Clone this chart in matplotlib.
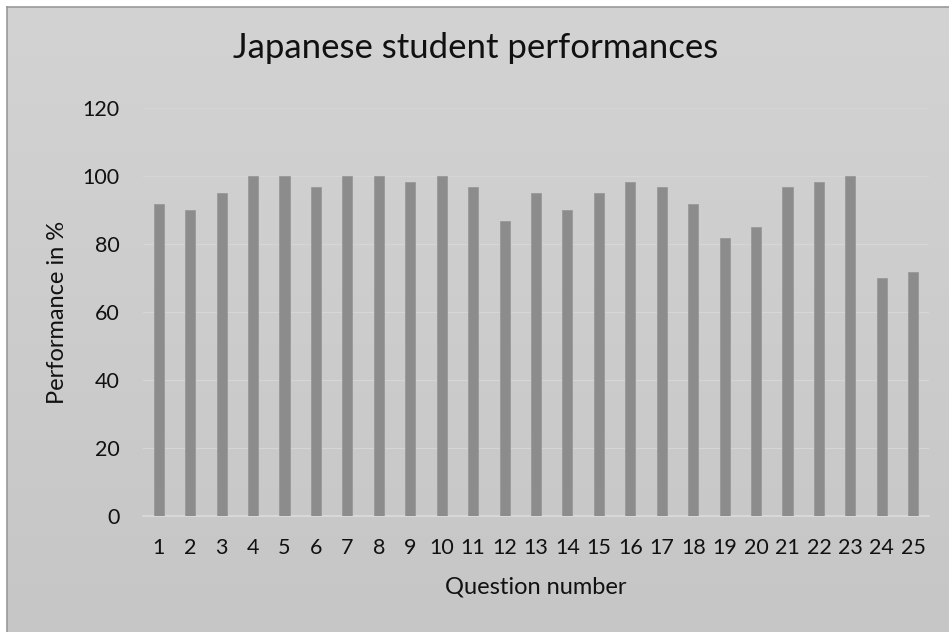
import numpy as np
import matplotlib.pyplot as plt

plt.rcParams['font.family'] = ['Lato', 'DejaVu Sans']

questions = [str(i) for i in range(1, 26)]
performance = [91.7, 90.0, 95.0, 100.0, 100.0, 96.7, 100.0, 100.0, 98.3, 100.0,
               96.7, 86.7, 95.0, 90.0, 95.0, 98.3, 96.7, 91.7, 81.7, 85.0,
               96.7, 98.3, 100.0, 70.0, 71.7]
y_ticks = [0, 20, 40, 60, 80, 100, 120]

fig = plt.figure(figsize=(9.49, 6.32), dpi=100)

# chart area background: grey gradient with thin border on top/left
bg = fig.add_axes([7 / 949, 0, 1 - 7 / 949, 1 - 7 / 632])
grad = np.linspace(0, 1, 256).reshape(-1, 1)
bg.imshow(grad, aspect='auto', cmap=plt.matplotlib.colors.LinearSegmentedColormap.from_list(
    'bg', ['#d3d3d3', '#c6c6c6']), extent=[0, 1, 0, 1])
bg.set_xticks([])
bg.set_yticks([])
for side in ['right', 'bottom']:
    bg.spines[side].set_visible(False)
for side in ['top', 'left']:
    bg.spines[side].set_color('#999999')
    bg.spines[side].set_linewidth(1.2)

ax = fig.add_axes([143 / 949, 1 - 516 / 632, (929 - 143) / 949, (516 - 108) / 632])
ax.patch.set_alpha(0)
x = np.arange(len(questions))
ax.bar(x, performance, width=0.32, color='#8c8c8c', edgecolor='#999999', linewidth=0.6, zorder=3)
ax.set_xlim(-0.5, len(questions) - 0.5)
ax.set_ylim(0, 120)
ax.set_yticks(y_ticks)
ax.set_xticks(x)
ax.set_xticklabels(questions)
ax.tick_params(length=0, labelsize=15.5, colors='#111111')
ax.tick_params(axis='y', pad=17)
ax.tick_params(axis='x', pad=16)
ax.grid(axis='y', color='#d6d6d6', linewidth=0.8, zorder=0)
for side in ['top', 'right', 'left']:
    ax.spines[side].set_visible(False)
ax.spines['bottom'].set_color('#dcdcdc')
ax.spines['bottom'].set_linewidth(1.2)

ax.set_xlabel('Question number', fontsize=17, color='#111111', va='center')
ax.set_ylabel('Performance in %', fontsize=17, color='#111111', va='center')
ax.xaxis.set_label_coords(0.5, (516 - 587) / 408)
ax.yaxis.set_label_coords((58 - 143) / 786, 0.5)
fig.text(476 / 949, 1 - 48 / 632, 'Japanese student performances', fontsize=25,
         ha='center', va='center', color='#111111')

fig.savefig('out.png', dpi=100)
